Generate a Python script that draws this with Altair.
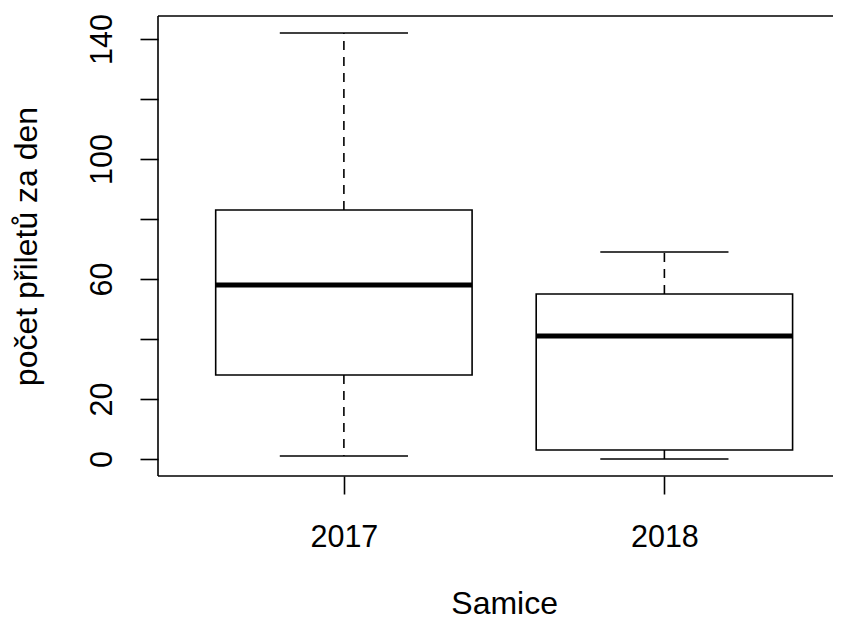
import altair as alt
import pandas as pd

# ---- data (R boxplot) ----
years = ["2017", "2018"]
xpos = [1, 2]
mins = [1, 0]
q1s = [28, 3]
meds = [58, 41]
q3s = [83, 55]
maxs = [142, 69]
y_ticks = [0, 20, 40, 60, 80, 100, 120, 140]

boxwex = 0.8
staplewex = 0.5

W, H = 675, 460
PX_PER_UNIT = 320.5

df = pd.DataFrame({"year": years, "x": xpos, "ymin": mins, "q1": q1s,
                   "med": meds, "q3": q3s, "ymax": maxs})
df["lo"] = df["x"] - boxwex / 2
df["hi"] = df["x"] + boxwex / 2
df["clo"] = df["x"] - boxwex * staplewex / 2
df["chi"] = df["x"] + boxwex * staplewex / 2

# R style axis limits (4% extension)
rng = max(maxs) - min(mins)
y0, y1 = min(mins) - 0.04 * rng, max(maxs) + 0.04 * rng
x0 = 0.5 - 0.04 * len(years)
x1 = x0 + W / PX_PER_UNIT

xs = alt.Scale(domain=[x0, x1], nice=False, zero=False)
ys = alt.Scale(domain=[y0, y1], nice=False, zero=False)

FONT = "Liberation Sans"
LW = 1.6

y_axis = alt.Axis(values=y_ticks,
                  labelExpr="datum.value == 40 || datum.value == 80 || datum.value == 120 ? '' : datum.label",
                  labelAngle=270, labelAlign="center", labelBaseline="alphabetic",
                  labelPadding=29, labelOverlap=False,
                  title="počet přiletů za den", titleAngle=270,
                  titleX=-122, titleY=H / 2, titleAlign="center",
                  titleBaseline="alphabetic")
x_axis = alt.Axis(values=xpos,
                  labelExpr="datum.value == 1 ? '2017' : '2018'",
                  labelAngle=0, labelAlign="center", labelBaseline="top",
                  labelPadding=28, labelFlush=False, labelOverlap=False,
                  title="Samice", titleX=(1.5 - x0) * PX_PER_UNIT, titleY=137,
                  titleAlign="center", titleBaseline="alphabetic")


def X(field):
    return alt.X(field, type="quantitative", scale=xs, axis=x_axis)


def Y(field):
    return alt.Y(field, type="quantitative", scale=ys, axis=y_axis)


base = alt.Chart(df)

boxes = base.mark_rect(fill="white", stroke="black", strokeWidth=LW).encode(
    x=X("lo"), x2="hi", y=Y("q1"), y2="q3",
)
medians = base.mark_rule(color="black", strokeWidth=5, strokeCap="butt").encode(
    x=X("lo"), x2="hi", y=Y("med"),
)
upper = base.mark_rule(color="black", strokeWidth=LW, strokeDash=[9, 7]).encode(
    x=X("x"), y=Y("q3"), y2="ymax",
)
lower = base.mark_rule(color="black", strokeWidth=LW, strokeDash=[9, 7]).encode(
    x=X("x"), y=Y("q1"), y2="ymin",
)
cap_hi = base.mark_rule(color="black", strokeWidth=LW).encode(
    x=X("clo"), x2="chi", y=Y("ymax"),
)
cap_lo = base.mark_rule(color="black", strokeWidth=LW).encode(
    x=X("clo"), x2="chi", y=Y("ymin"),
)

frame_df = pd.DataFrame({
    "fx": [x0, x0, x0], "fx2": [x0, x1, x1],
    "fy": [y0, y1, y0], "fy2": [y1, y1, y0],
})
frame = alt.Chart(frame_df).mark_rule(color="black", strokeWidth=LW).encode(
    x=X("fx"), x2="fx2", y=Y("fy"), y2="fy2",
)

chart = alt.layer(upper, lower, cap_hi, cap_lo, boxes, medians, frame).properties(
    width=W, height=H,
    autosize=alt.AutoSizeParams(type="none"),
    padding={"left": 150, "top": 8, "right": 0, "bottom": 145},
    background="white",
).configure_axis(
    labelFont=FONT, titleFont=FONT, labelFontSize=30.5, titleFontSize=32,
    labelColor="black", titleColor="black", titleFontWeight="normal",
    tickColor="black", tickWidth=LW, tickSize=18, domain=False, grid=False,
).configure_view(stroke=None)

chart.save("out.html", embed_options={"renderer": "svg", "actions": False})
